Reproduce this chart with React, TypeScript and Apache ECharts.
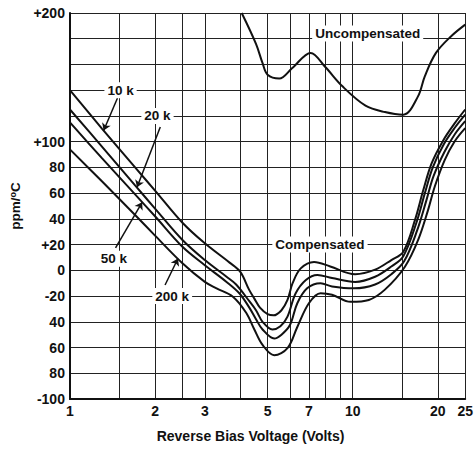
import React, { useEffect, useRef } from 'react';
import * as echarts from 'echarts';

// ---- axis ticks ----
const xGridValues = [1, 1.5, 2, 2.5, 3, 4, 5, 6, 7, 8, 9, 10, 15, 20, 25];
const xLabelValues = [1, 2, 3, 5, 7, 10, 20, 25];
const yTickValues = [-100, -80, -60, -40, -20, 0, 20, 40, 60, 80, 100, 120, 140, 160, 180, 200];
const yTickLabels = ['-100', '80', '60', '40', '-20', '0', '+20', '40', '60', '80', '+100', '', '', '', '', '+200'];

// ---- curves: [reverse bias voltage, ppm/°C] ----
const uncompensated = [
  [4.05, 200], [4.55, 176], [4.8, 161], [5.0, 152], [5.5, 149], [6.1, 157], [7.1, 169],
  [8.0, 158], [9.2, 143], [11.1, 128], [13, 123], [15.1, 121], [17, 135], [18, 151],
  [19.7, 169], [22.3, 182], [25, 191],
];
const comp10k = [
  [1, 140], [1.3, 110], [1.7, 80], [2.0, 62], [2.5, 37], [3.0, 21], [3.67, 6], [4.0, -1],
  [4.3, -15], [4.49, -22], [4.7, -29], [5.0, -34], [5.25, -35], [5.6, -31], [5.88, -23],
  [6.13, -10], [6.55, 1.5], [7.3, 6.5], [8.33, 3], [10.2, -3], [12, 0.5], [13.7, 8],
  [15.1, 14.5], [16.6, 39], [17.75, 62], [19, 83], [20.9, 101], [22.9, 114], [25, 125],
];
const comp20k = [
  [1, 125], [1.3, 96], [1.7, 66], [2.0, 48], [2.5, 23.6], [3.0, 8], [3.58, -5], [3.87, -11],
  [4.31, -24], [4.55, -31], [4.8, -40], [5.2, -46], [5.55, -43.5], [5.88, -36], [6.28, -18],
  [6.83, -7.5], [7.5, -3.6], [8.45, -6], [10.2, -9], [12, -5], [13.7, 3], [15.1, 11],
  [16.8, 37], [18, 60], [19.2, 80], [21, 98], [23, 111], [25, 121],
];
const comp50k = [
  [1, 115], [1.3, 87], [1.7, 59], [2.0, 42], [2.5, 18.3], [3.0, 4], [3.58, -9], [3.98, -18],
  [4.31, -29], [4.55, -38], [4.8, -46], [5.28, -53], [5.6, -50], [6.0, -42.5], [6.37, -25.6],
  [6.9, -14], [7.7, -10], [8.45, -12.5], [10.1, -14], [12, -11], [13.7, -3], [15.2, 7],
  [16.9, 31], [18.2, 54], [19.3, 73], [21.1, 92], [23, 106], [25, 116],
];
const comp200k = [
  [1, 94], [1.3, 69], [1.7, 43], [2.0, 27], [2.5, 5.5], [3.0, -9], [3.3, -14], [3.77, -20.5],
  [4.2, -33], [4.49, -46], [4.8, -58], [5.28, -66], [5.88, -60.5], [6.37, -44], [7.0, -25.6],
  [7.7, -17.8], [8.45, -19], [9.83, -24.5], [11.4, -23], [13, -15], [15.3, 2.8],
  [17.04, 23.6], [18.48, 47], [19.5, 65], [21.15, 85.7], [22.9, 100], [25, 110.5],
];

// ---- annotations ----
const labelNames = ['10 k', '20 k', '50 k', '200 k', 'Uncompensated', 'Compensated'];
const labelCoords = [[1.51, 140], [2.04, 120], [1.43, 9], [2.3, -20], [11.3, 184], [7.66, 20]];
const arrowFrom = [[1.473, 133.9], [2.087, 111.4], [1.45, 17.4], [2.17, -11.4]];
const arrowTo = [[1.316, 108.7], [1.727, 64.5], [1.8, 52.9], [2.41, 9.2]];

const FONT = '"Liberation Sans", Arial, Helvetica, sans-serif';
const INK = '#111';

export default function App() {
  const ref = useRef<HTMLDivElement>(null);

  useEffect(() => {
    if (!ref.current) return;
    const chart = echarts.init(ref.current, null, { renderer: 'svg' });

    const curve = (name: string, data: number[][], extra: any = {}) => ({
      type: 'line',
      name,
      data,
      showSymbol: false,
      symbol: 'none',
      smooth: 0.35,
      silent: true,
      z: 3,
      lineStyle: { color: INK, width: 2 },
      ...extra,
    });

    const option: any = {
      animation: false,
      backgroundColor: '#fff',
      textStyle: { fontFamily: FONT },
      grid: { left: 69, right: 9, top: 13, bottom: 51 },
      xAxis: {
        type: 'log',
        logBase: 10,
        min: 1,
        max: 25,
        name: 'Reverse Bias Voltage (Volts)',
        nameLocation: 'middle',
        nameGap: 30,
        nameTextStyle: {
          fontFamily: FONT,
          fontSize: 14,
          fontWeight: 'bold',
          color: INK,
          padding: [0, 34, 0, 0],
        },
        axisLine: { show: true, onZero: false, lineStyle: { color: INK, width: 2 } },
        axisTick: { show: false, customValues: xGridValues },
        axisLabel: {
          customValues: xLabelValues,
          formatter: (v: number) => String(Math.round(v * 10) / 10),
          fontFamily: FONT,
          fontSize: 14,
          fontWeight: 'bold',
          color: INK,
          margin: 5,
        },
        splitLine: { show: true, lineStyle: { color: '#222', width: 1 } },
        minorSplitLine: { show: false },
      },
      yAxis: {
        type: 'value',
        min: -100,
        max: 200,
        interval: 20,
        name: 'ppm/{sup|o}C',
        nameLocation: 'middle',
        nameRotate: 90,
        nameGap: 44,
        nameTextStyle: {
          fontFamily: FONT,
          fontSize: 13.5,
          fontWeight: 'bold',
          color: INK,
          rich: {
            sup: { fontFamily: FONT, fontSize: 9, fontWeight: 'bold', color: INK, padding: [0, 0, 6, 0] },
          },
        },
        axisLine: { show: true, onZero: false, lineStyle: { color: INK, width: 2 } },
        axisTick: { show: false },
        axisLabel: {
          formatter: (v: number) => {
            const i = yTickValues.indexOf(Math.round(v));
            return i >= 0 ? yTickLabels[i] : '';
          },
          fontFamily: FONT,
          fontSize: 14,
          fontWeight: 'bold',
          color: INK,
          margin: 5,
        },
        splitLine: { show: true, lineStyle: { color: '#222', width: 1 } },
      },
      series: [
        curve('Uncompensated', uncompensated, {
          markPoint: {
            silent: true,
            symbol: 'circle',
            symbolSize: 1,
            itemStyle: { color: 'rgba(0,0,0,0)' },
            label: {
              show: true,
              position: 'inside',
              formatter: (p: any) => p.name,
              fontFamily: FONT,
              fontSize: 13.5,
              fontWeight: 'bold',
              color: INK,
              backgroundColor: '#fff',
              padding: [1, 3, 1, 3],
            },
            data: labelNames.map((n, i) => ({ name: n, coord: labelCoords[i] })),
          },
          markLine: {
            silent: true,
            symbol: ['none', 'arrow'],
            symbolSize: 7,
            label: { show: false },
            lineStyle: { color: INK, width: 1.5, type: 'solid' },
            data: arrowFrom.map((f, i) => [{ coord: f }, { coord: arrowTo[i] }]),
          },
        }),
        curve('10 k', comp10k),
        curve('20 k', comp20k),
        curve('50 k', comp50k),
        curve('200 k', comp200k),
      ],
    };

    chart.setOption(option);
    return () => chart.dispose();
  }, []);

  return (
    <div
      ref={ref}
      style={{ position: 'absolute', left: 0, top: 0, width: 476, height: 450, background: '#fff' }}
    />
  );
}
